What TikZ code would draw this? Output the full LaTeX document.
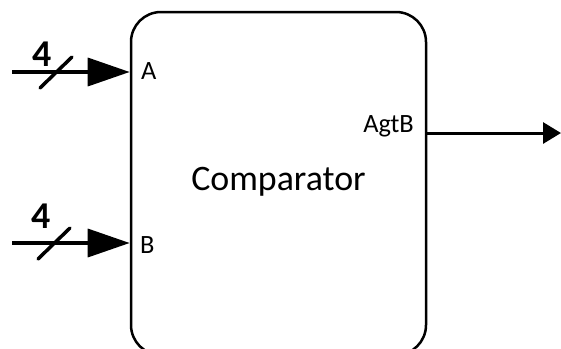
\documentclass[tikz,border=0pt]{standalone}
\usepackage{fontspec}
\setmainfont{Carlito}
\usetikzlibrary{arrows.meta}
\begin{document}
\begin{tikzpicture}[x=1bp,y=-1bp,
  blockbox/.style={draw, line width=2.5bp, rounded corners=30bp, minimum width=295bp, minimum height=343bp, inner sep=0pt},
  bus/.style={line width=3.5bp, -{Triangle[length=42bp,width=28bp]}},
  slashline/.style={line width=3.5bp, line cap=round},
  buswidth/.style={font=\bfseries\fontsize{38}{40}\selectfont, inner sep=0pt},
  portlabel/.style={font=\fontsize{26.5}{28}\selectfont, inner sep=0pt},
  outarrow/.style={line width=3bp, -{Triangle[length=18bp,width=21bp]}}
]
\useasboundingbox (0,0) rectangle (561,348);
\begin{scope}
\clip (0,0) rectangle (561,348);
\node[blockbox] (box) at (278.5,183.5) {};
\end{scope}
\node[font=\fontsize{36}{38}\selectfont, inner sep=0pt] (cmp) at (278.5,182) {Comparator};
% input A
\coordinate (inA) at (12,72);
\draw[bus] (inA) -- (inA -| box.west);
\coordinate (sA1) at (40,88);
\coordinate (sA2) at (72,57);
\draw[slashline] (sA1) -- (sA2);
\node[buswidth] (wA) at (42,54) {4};
\node[portlabel, anchor=west] (lA) at (141,71) {A};
% input B
\coordinate (inB) at (12,243);
\draw[bus] (inB) -- (inB -| box.west);
\coordinate (sB1) at (38,259);
\coordinate (sB2) at (70,228);
\draw[slashline] (sB1) -- (sB2);
\node[portlabel, anchor=west] (lB) at (140,245) {B};
\node[buswidth] (wB) at (41,216) {4};
% output
\coordinate (outY) at (561,133);
\draw[outarrow] (outY -| box.east) -- (outY);
\node[portlabel, anchor=east] (lO) at (414,126) {AgtB};
\end{tikzpicture}
\end{document}
